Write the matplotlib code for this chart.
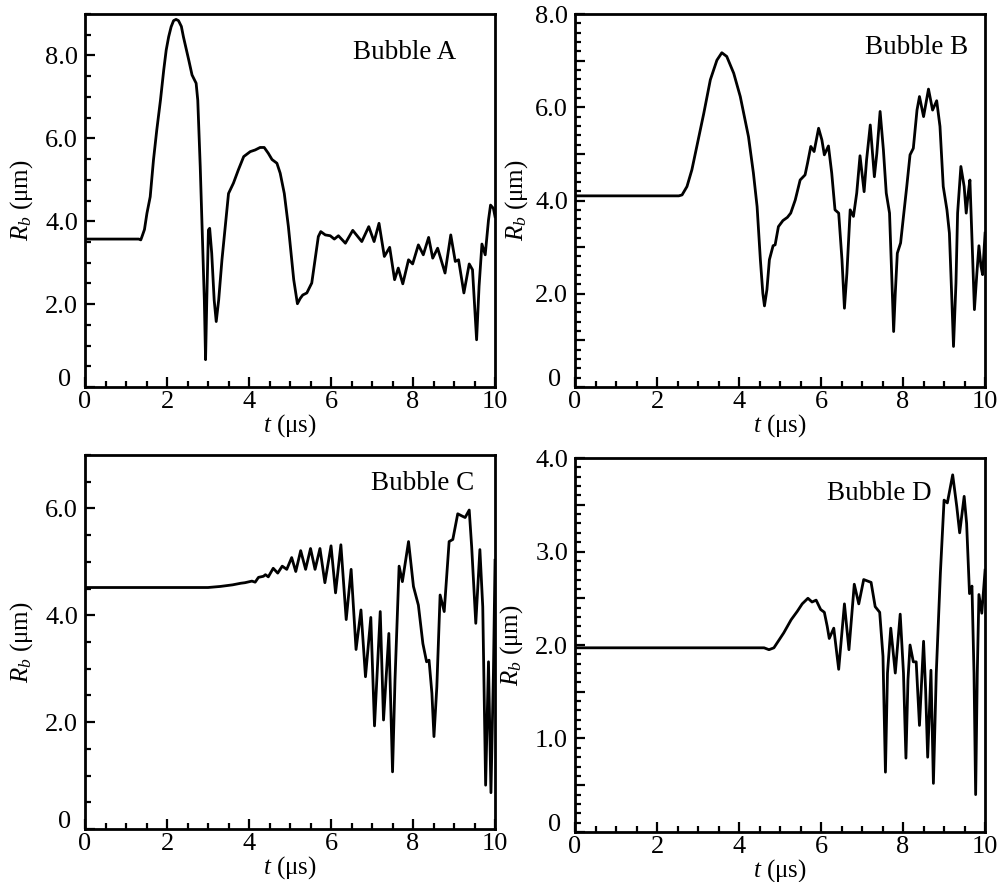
import matplotlib
matplotlib.use("Agg")
import matplotlib.pyplot as plt
from matplotlib.ticker import MultipleLocator, FuncFormatter
from matplotlib.transforms import ScaledTranslation

plt.rcParams.update({
    "font.family": ["Liberation Serif", "DejaVu Serif"],
    "font.size": 18,
    "xtick.labelsize": 19,
    "ytick.labelsize": 19,
    "mathtext.fontset": "custom",
    "mathtext.rm": "Liberation Serif",
    "mathtext.it": "Liberation Serif:italic",
})

# bubble radius R_b (um) vs time t (us)
t_a = [0, 1.31, 1.36, 1.39, 1.45, 1.51, 1.59, 1.67, 1.75, 1.84, 1.92, 1.98, 2.04, 2.10, 2.16,
       2.22, 2.28, 2.35, 2.40, 2.53, 2.61, 2.71, 2.75, 2.81, 2.86, 2.91, 2.94, 2.97, 3.01,
       3.04, 3.09, 3.15, 3.20, 3.26, 3.34, 3.42, 3.50, 3.62, 3.74, 3.87, 4.03, 4.15, 4.27,
       4.37, 4.47, 4.56, 4.68, 4.76, 4.86, 4.96, 5.09, 5.18, 5.25, 5.31, 5.41, 5.53, 5.61,
       5.69, 5.75, 5.86, 5.98, 6.08, 6.18, 6.35, 6.53, 6.75, 6.92, 7.05, 7.17, 7.30, 7.43,
       7.55, 7.64, 7.75, 7.89, 7.99, 8.13, 8.25, 8.38, 8.48, 8.60, 8.78, 8.92, 9.03, 9.11,
       9.24, 9.37, 9.45, 9.55, 9.61, 9.68, 9.76, 9.84, 9.89, 9.96, 10.0]
r_a = [3.57, 3.57, 3.55, 3.63, 3.80, 4.19, 4.59, 5.48, 6.20, 6.92, 7.65, 8.13, 8.45, 8.69, 8.84,
       8.87, 8.84, 8.70, 8.45, 7.89, 7.53, 7.33, 6.92, 5.32, 3.71, 2.10, 0.66, 2.10, 3.79,
       3.83, 3.23, 2.10, 1.58, 2.10, 3.07, 3.87, 4.67, 4.92, 5.24, 5.56, 5.68, 5.72, 5.78,
       5.78, 5.64, 5.49, 5.40, 5.16, 4.67, 3.87, 2.59, 2.01, 2.14, 2.22, 2.27, 2.51, 3.07,
       3.63, 3.75, 3.67, 3.65, 3.57, 3.65, 3.47, 3.78, 3.51, 3.87, 3.51, 3.95, 3.15, 3.37,
       2.59, 2.87, 2.49, 3.07, 2.97, 3.43, 3.19, 3.61, 3.11, 3.35, 2.75, 3.67, 3.03, 3.07,
       2.27, 2.97, 2.83, 1.14, 2.43, 3.45, 3.19, 4.03, 4.39, 4.31, 4.11]

t_b = [0, 2.53, 2.61, 2.73, 2.85, 2.97, 3.14, 3.30, 3.46, 3.58, 3.70, 3.87, 4.03, 4.23, 4.35,
       4.44, 4.52, 4.58, 4.62, 4.68, 4.74, 4.83, 4.88, 4.96, 5.07, 5.18, 5.26, 5.37, 5.49,
       5.61, 5.67, 5.75, 5.83, 5.94, 6.02, 6.08, 6.18, 6.26, 6.34, 6.43, 6.51, 6.57, 6.63,
       6.71, 6.79, 6.87, 6.95, 7.05, 7.11, 7.20, 7.30, 7.36, 7.44, 7.52, 7.59, 7.67, 7.73,
       7.77, 7.81, 7.86, 7.94, 8.01, 8.09, 8.17, 8.25, 8.34, 8.40, 8.50, 8.62, 8.72, 8.82,
       8.90, 8.98, 9.07, 9.13, 9.19, 9.23, 9.29, 9.33, 9.41, 9.49, 9.54, 9.59, 9.63, 9.69,
       9.74, 9.80, 9.85, 9.90, 9.94, 10.0]
r_b = [4.10, 4.10, 4.12, 4.30, 4.66, 5.16, 5.87, 6.59, 7.01, 7.17, 7.09, 6.73, 6.23, 5.37, 4.59,
       3.87, 2.73, 2.01, 1.74, 2.09, 2.73, 3.03, 3.05, 3.44, 3.57, 3.64, 3.73, 4.01, 4.44,
       4.55, 4.80, 5.16, 5.05, 5.55, 5.30, 4.98, 5.17, 4.59, 3.80, 3.73, 2.73, 1.69, 2.44,
       3.80, 3.66, 4.16, 4.96, 4.19, 4.87, 5.62, 4.51, 5.01, 5.91, 5.09, 4.16, 3.73, 2.23,
       1.19, 2.01, 2.87, 3.09, 3.66, 4.30, 4.98, 5.12, 5.94, 6.23, 5.80, 6.39, 5.94, 6.14,
       5.59, 4.30, 3.80, 3.30, 1.87, 0.87, 2.23, 3.73, 4.73, 4.30, 3.73, 4.16, 4.44, 2.94,
       1.66, 2.44, 3.03, 2.59, 2.41, 3.30]

t_c = [0, 3.00, 3.30, 3.60, 3.80, 3.90, 4.07, 4.15, 4.23, 4.35, 4.40, 4.47, 4.59, 4.70, 4.81,
       4.92, 5.04, 5.14, 5.26, 5.38, 5.50, 5.61, 5.73, 5.85, 6.00, 6.11, 6.24, 6.37, 6.49,
       6.61, 6.73, 6.84, 6.97, 7.06, 7.20, 7.28, 7.41, 7.50, 7.56, 7.66, 7.74, 7.89, 8.01,
       8.13, 8.24, 8.33, 8.39, 8.46, 8.51, 8.58, 8.66, 8.76, 8.88, 8.97, 9.09, 9.19, 9.27,
       9.37, 9.43, 9.53, 9.63, 9.70, 9.77, 9.84, 9.90, 9.96, 10.0]
r_c = [4.52, 4.52, 4.54, 4.57, 4.60, 4.61, 4.64, 4.62, 4.71, 4.73, 4.76, 4.72, 4.88, 4.79, 4.92,
       4.86, 5.08, 4.82, 5.21, 4.86, 5.25, 4.86, 5.25, 4.61, 5.30, 4.42, 5.32, 3.92, 4.86,
       3.36, 4.10, 2.85, 3.96, 1.93, 4.07, 2.04, 3.66, 1.07, 2.79, 4.92, 4.63, 5.38, 4.54,
       4.19, 3.47, 3.13, 3.16, 2.54, 1.73, 2.66, 4.38, 4.07, 5.38, 5.42, 5.90, 5.86, 5.83,
       5.97, 5.28, 3.85, 5.23, 4.16, 0.82, 3.13, 0.68, 2.91, 5.03]

t_d = [0, 4.61, 4.73, 4.85, 4.97, 5.09, 5.27, 5.42, 5.54, 5.68, 5.78, 5.88, 5.99, 6.08, 6.15,
       6.20, 6.31, 6.43, 6.57, 6.68, 6.81, 6.92, 7.04, 7.16, 7.22, 7.32, 7.43, 7.51, 7.57,
       7.62, 7.70, 7.81, 7.93, 8.01, 8.07, 8.12, 8.17, 8.25, 8.32, 8.40, 8.50, 8.55, 8.60,
       8.68, 8.74, 8.81, 8.91, 9.00, 9.08, 9.21, 9.31, 9.38, 9.49, 9.55, 9.62, 9.68, 9.73,
       9.77, 9.81, 9.85, 9.92, 10.0]
r_d = [1.97, 1.97, 1.95, 1.97, 2.05, 2.13, 2.27, 2.36, 2.44, 2.50, 2.46, 2.48, 2.38, 2.35, 2.20,
       2.07, 2.18, 1.74, 2.44, 1.95, 2.65, 2.44, 2.70, 2.68, 2.67, 2.41, 2.35, 1.88, 0.64,
       1.70, 2.18, 1.70, 2.33, 1.70, 0.79, 1.63, 2.00, 1.82, 1.82, 1.14, 2.04, 1.52, 0.80,
       1.73, 0.52, 1.70, 2.77, 3.55, 3.52, 3.82, 3.48, 3.20, 3.59, 3.30, 2.55, 2.63, 1.70,
       0.40, 1.70, 2.54, 2.34, 2.80]

panels = [
    # t, R, label, ymax, major, minor, label step, ylabel x, axes rect, text pos
    (t_a, r_a, "Bubble A", 9.0, 2.0, 0.5, 2.0, -0.123, [0.0845, 0.5612, 0.4076, 0.4229], (0.654, 0.898)),
    (t_b, r_b, "Bubble B", 8.0, 1.0, 0.2, 2.0, -0.110, [0.5716, 0.5612, 0.4076, 0.4229], (0.707, 0.909)),
    (t_c, r_c, "Bubble C", 7.0, 2.0, 0.5, 2.0, -0.123, [0.0845, 0.0601, 0.4076, 0.4240], (0.698, 0.925)),
    (t_d, r_d, "Bubble D", 4.0, 0.5, 0.1, 1.0, -0.123, [0.5716, 0.0567, 0.4076, 0.4240], (0.615, 0.904)),
]


def make_formatter(step):
    def fmt(v, pos):
        if abs(v) < 1e-9:
            return "0"
        if abs(v / step - round(v / step)) > 1e-6:
            return ""
        return "{:.1f}".format(v)
    return fmt


fig = plt.figure(figsize=(10.06, 8.82), dpi=100)

for t, r, name, ymax, major, minor, step, ylx, rect, txt in panels:
    ax = fig.add_axes(rect)
    ax.plot(t, r, color="black", linewidth=2.0, solid_joinstyle="round")
    ax.set_xlim(0, 10)
    ax.set_ylim(0, ymax)

    ax.xaxis.set_major_locator(MultipleLocator(2))
    ax.xaxis.set_minor_locator(MultipleLocator(0.5))
    ax.yaxis.set_major_locator(MultipleLocator(major))
    ax.yaxis.set_minor_locator(MultipleLocator(minor))
    ax.yaxis.set_major_formatter(FuncFormatter(make_formatter(step)))

    ax.tick_params(which="both", direction="in", top=False, right=False, width=1.6)
    ax.tick_params(which="major", length=7)
    ax.tick_params(which="minor", length=4)
    ax.tick_params(axis="y", which="major", pad=5)
    ax.tick_params(axis="x", which="major", pad=3)
    for sp in ax.spines.values():
        sp.set_linewidth(2.0)

    ax.set_xlabel(r"$t$ (μs)", labelpad=-1)
    ax.set_ylabel(r"$R_b$ (μm)")
    ax.yaxis.set_label_coords(ylx, 0.5)

    ax.text(txt[0], txt[1], name, transform=ax.transAxes, fontsize=19.5, va="center", ha="left")

    # the zero on the y axis sits a bit above the corner, as in the original
    fig.canvas.draw()
    for lab in ax.get_yticklabels():
        if lab.get_text() == "0":
            lab.set_transform(lab.get_transform() + ScaledTranslation(-5 / 72, 7 / 72, fig.dpi_scale_trans))

fig.savefig("out.png", dpi=100)
